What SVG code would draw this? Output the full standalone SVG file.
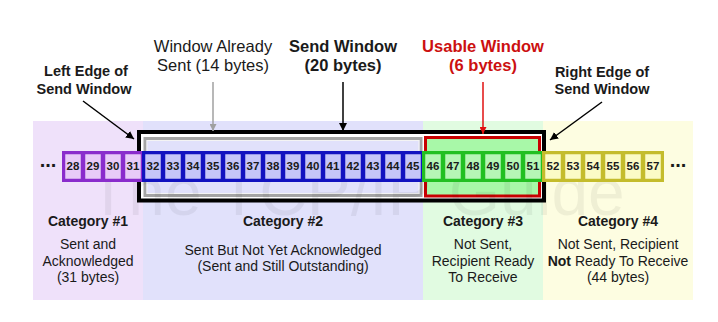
<svg xmlns="http://www.w3.org/2000/svg" width="718" height="322" viewBox="0 0 718 322">
  <style>
    text { font-family: "Liberation Sans", Arial, sans-serif; fill: #1a1a1a; text-anchor: middle; }
    .hd { font-size: 16.5px; }
    .b { font-weight: bold; }
    .edge { font-size: 14.5px; font-weight: bold; }
    .cat { font-size: 14px; font-weight: bold; }
    .body { font-size: 14px; }
    .red { fill: #cc1010; }
    .num { font-size: 11.5px; font-weight: bold; }
    .dots { font-size: 20px; font-weight: bold; }
    .mark { font-size: 66px; fill: #000; fill-opacity: 0.055; text-anchor: start; }
    .c1 { fill: #e8cbf8; stroke: #8a2ccc; stroke-width: 2.5; }
    .c2 { fill: #c6c6f8; stroke: #1212c0; stroke-width: 2.5; }
    .c3 { fill: #b6f6b6; stroke: #22c022; stroke-width: 2.5; }
    .c4 { fill: #fbfbc6; stroke: #c4bc2c; stroke-width: 2.5; }
    .ln { fill: none; stroke-width: 1.5; }
  </style>
  <defs>
    <marker id="hBlack" viewBox="0 0 10 10" refX="10" refY="5" markerWidth="8" markerHeight="8" markerUnits="userSpaceOnUse" orient="auto">
      <path d="M0,0 L10,5 L0,10 z" fill="#000"/>
    </marker>
    <marker id="hGray" viewBox="0 0 10 10" refX="10" refY="5" markerWidth="7" markerHeight="7" markerUnits="userSpaceOnUse" orient="auto">
      <path d="M0,0 L10,5 L0,10 z" fill="#a0a0a0"/>
    </marker>
    <marker id="hRed" viewBox="0 0 10 10" refX="10" refY="5" markerWidth="7" markerHeight="7" markerUnits="userSpaceOnUse" orient="auto">
      <path d="M0,0 L10,5 L0,10 z" fill="#e01010"/>
    </marker>
  </defs>

  <rect width="718" height="322" fill="#fff"/>

  <!-- category bands -->
  <g id="bands">
    <rect x="33" y="121" width="110" height="179" fill="#efe1fa"/>
    <rect x="143" y="121" width="280" height="179" fill="#e1e1fb"/>
    <rect x="423" y="121" width="120" height="179" fill="#e1fbe1"/>
    <rect x="543" y="121" width="150" height="179" fill="#fdfde1"/>
  </g>

  <!-- send window frames -->
  <g id="send-window">
    <rect x="139" y="132" width="405" height="68.5" fill="#fff" stroke="#000" stroke-width="4"/>
  </g>
  <g id="already-sent">
    <rect x="145" y="138.5" width="276" height="57" fill="#e1e1fb" stroke="#a4a4a4" stroke-width="3"/>
    <rect x="147" y="140.5" width="272" height="53" fill="none" stroke="#f4f4f4" stroke-width="1"/>
  </g>
  <g id="usable-window">
    <rect x="425.5" y="137.5" width="114" height="58.5" fill="#a8f8a8" stroke="#c80000" stroke-width="3"/>
  </g>

  <text class="mark" x="88" y="215">The TCP/IP Guide</text>

  <!-- byte cells -->
  <g id="bytes-cat1">
    <rect class="c1" x="64" y="153" width="18" height="27"/>
    <rect class="c1" x="84" y="153" width="18" height="27"/>
    <rect class="c1" x="104" y="153" width="18" height="27"/>
    <rect class="c1" x="124" y="153" width="18" height="27"/>
    <rect x="63" y="152" width="80" height="29" fill="none" stroke="#8a2ccc" stroke-width="2"/>
    <text class="num" x="73" y="170">28</text>
    <text class="num" x="93" y="170">29</text>
    <text class="num" x="113" y="170">30</text>
    <text class="num" x="133" y="170">31</text>
  </g>
  <g id="bytes-cat2">
    <rect class="c2" x="144" y="153" width="18" height="27"/>
    <rect class="c2" x="164" y="153" width="18" height="27"/>
    <rect class="c2" x="184" y="153" width="18" height="27"/>
    <rect class="c2" x="204" y="153" width="18" height="27"/>
    <rect class="c2" x="224" y="153" width="18" height="27"/>
    <rect class="c2" x="244" y="153" width="18" height="27"/>
    <rect class="c2" x="264" y="153" width="18" height="27"/>
    <rect class="c2" x="284" y="153" width="18" height="27"/>
    <rect class="c2" x="304" y="153" width="18" height="27"/>
    <rect class="c2" x="324" y="153" width="18" height="27"/>
    <rect class="c2" x="344" y="153" width="18" height="27"/>
    <rect class="c2" x="364" y="153" width="18" height="27"/>
    <rect class="c2" x="384" y="153" width="18" height="27"/>
    <rect class="c2" x="404" y="153" width="18" height="27"/>
    <rect x="143" y="152" width="280" height="29" fill="none" stroke="#1212c0" stroke-width="2"/>
    <text class="num" x="153" y="170">32</text>
    <text class="num" x="173" y="170">33</text>
    <text class="num" x="193" y="170">34</text>
    <text class="num" x="213" y="170">35</text>
    <text class="num" x="233" y="170">36</text>
    <text class="num" x="253" y="170">37</text>
    <text class="num" x="273" y="170">38</text>
    <text class="num" x="293" y="170">39</text>
    <text class="num" x="313" y="170">40</text>
    <text class="num" x="333" y="170">41</text>
    <text class="num" x="353" y="170">42</text>
    <text class="num" x="373" y="170">43</text>
    <text class="num" x="393" y="170">44</text>
    <text class="num" x="413" y="170">45</text>
  </g>
  <g id="bytes-cat3">
    <rect class="c3" x="424" y="153" width="18" height="27"/>
    <rect class="c3" x="444" y="153" width="18" height="27"/>
    <rect class="c3" x="464" y="153" width="18" height="27"/>
    <rect class="c3" x="484" y="153" width="18" height="27"/>
    <rect class="c3" x="504" y="153" width="18" height="27"/>
    <rect class="c3" x="524" y="153" width="18" height="27"/>
    <rect x="423" y="152" width="120" height="29" fill="none" stroke="#22c022" stroke-width="2"/>
    <text class="num" x="433" y="170">46</text>
    <text class="num" x="453" y="170">47</text>
    <text class="num" x="473" y="170">48</text>
    <text class="num" x="493" y="170">49</text>
    <text class="num" x="513" y="170">50</text>
    <text class="num" x="533" y="170">51</text>
  </g>
  <g id="bytes-cat4">
    <rect class="c4" x="544" y="153" width="18" height="27"/>
    <rect class="c4" x="564" y="153" width="18" height="27"/>
    <rect class="c4" x="584" y="153" width="18" height="27"/>
    <rect class="c4" x="604" y="153" width="18" height="27"/>
    <rect class="c4" x="624" y="153" width="18" height="27"/>
    <rect class="c4" x="644" y="153" width="18" height="27"/>
    <rect x="543" y="152" width="120" height="29" fill="none" stroke="#c4bc2c" stroke-width="2"/>
    <text class="num" x="553" y="170">52</text>
    <text class="num" x="573" y="170">53</text>
    <text class="num" x="593" y="170">54</text>
    <text class="num" x="613" y="170">55</text>
    <text class="num" x="633" y="170">56</text>
    <text class="num" x="653" y="170">57</text>
  </g>
  <g id="ellipses">
    <text class="dots" x="48" y="167">...</text>
    <text class="dots" x="678" y="167">...</text>
  </g>

  <!-- labels -->
  <g id="label-left-edge">
    <text class="edge" x="86" y="76">Left Edge of</text>
    <text class="edge" x="84" y="94">Send Window</text>
  </g>
  <g id="label-already-sent">
    <text class="hd" x="213" y="52">Window Already</text>
    <text class="hd" x="213" y="71">Sent (14 bytes)</text>
  </g>
  <g id="label-send-window">
    <text class="hd b" x="343" y="52">Send Window</text>
    <text class="hd b" x="343" y="71">(20 bytes)</text>
  </g>
  <g id="label-usable-window">
    <text class="hd b red" x="483" y="52">Usable Window</text>
    <text class="hd b red" x="483" y="71">(6 bytes)</text>
  </g>
  <g id="label-right-edge">
    <text class="edge" x="602" y="77">Right Edge of</text>
    <text class="edge" x="602" y="94">Send Window</text>
  </g>

  <g id="category-1">
    <text class="cat" x="88" y="226">Category #1</text>
    <text class="body" x="88" y="249">Sent and</text>
    <text class="body" x="88" y="266">Acknowledged</text>
    <text class="body" x="88" y="282">(31 bytes)</text>
  </g>
  <g id="category-2">
    <text class="cat" x="283" y="226">Category #2</text>
    <text class="body" x="283" y="255">Sent But Not Yet Acknowledged</text>
    <text class="body" x="283" y="271">(Sent and Still Outstanding)</text>
  </g>
  <g id="category-3">
    <text class="cat" x="483" y="226">Category #3</text>
    <text class="body" x="483" y="249">Not Sent,</text>
    <text class="body" x="483" y="266">Recipient Ready</text>
    <text class="body" x="483" y="282">To Receive</text>
  </g>
  <g id="category-4">
    <text class="cat" x="618" y="226">Category #4</text>
    <text class="body" x="618" y="249">Not Sent, Recipient</text>
    <text class="body" x="618" y="266"><tspan font-weight="bold">Not</tspan> Ready To Receive</text>
    <text class="body" x="618" y="282">(44 bytes)</text>
  </g>

  <!-- connectors -->
  <g id="connectors">
    <line class="ln" x1="83" y1="101" x2="134" y2="139" stroke="#000" marker-end="url(#hBlack)"/>
    <line class="ln" x1="213" y1="82" x2="213" y2="131" stroke="#a0a0a0" marker-end="url(#hGray)"/>
    <line class="ln" x1="343" y1="82" x2="343" y2="131" stroke="#000" marker-end="url(#hBlack)"/>
    <line class="ln" x1="483" y1="82" x2="483" y2="134" stroke="#e01010" marker-end="url(#hRed)"/>
    <line class="ln" x1="602" y1="102" x2="550" y2="140" stroke="#000" marker-end="url(#hBlack)"/>
  </g>
</svg>
